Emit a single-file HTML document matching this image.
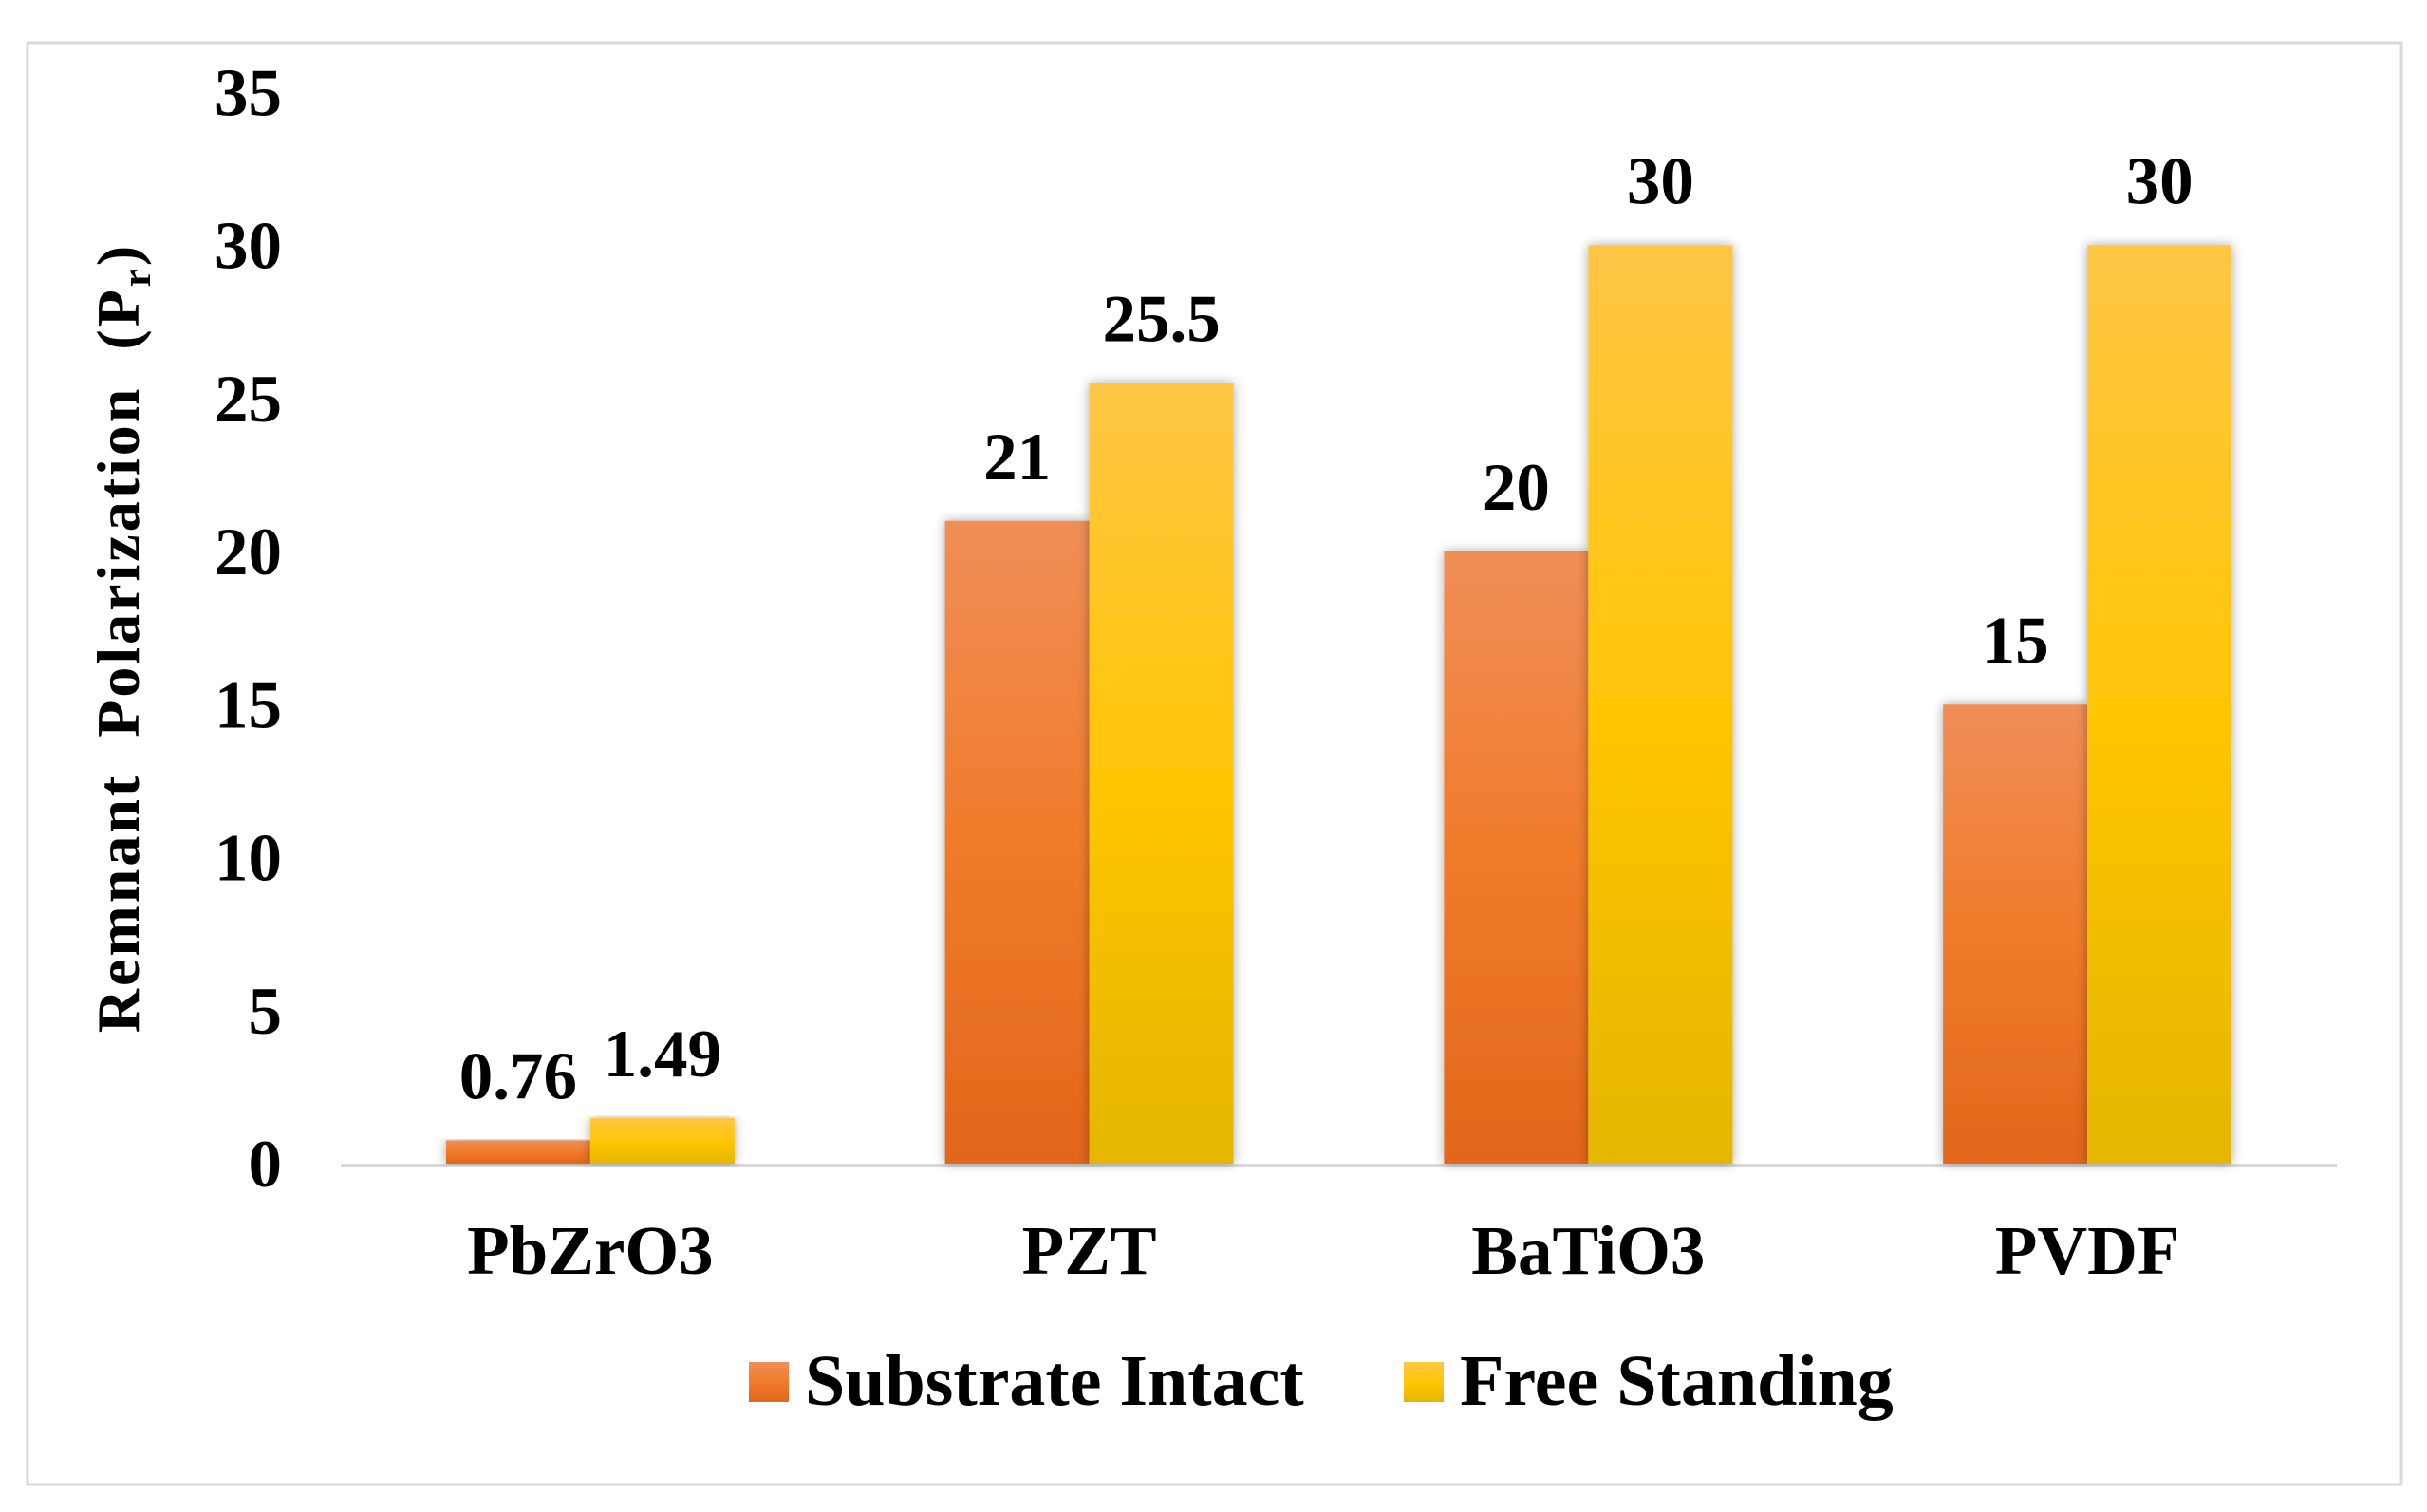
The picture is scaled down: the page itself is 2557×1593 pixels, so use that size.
<!DOCTYPE html>
<html><head><meta charset="utf-8"><style>
html,body{margin:0;padding:0;background:#fff;}
svg{display:block;font-family:"Liberation Serif",serif;font-weight:bold;}
</style></head><body>
<svg id="chart" width="2557" height="1593" viewBox="0 0 2557 1593">
<defs>
<linearGradient id="gO" x1="0" y1="0" x2="0" y2="1"><stop offset="0" stop-color="#f08e58"/><stop offset="0.5" stop-color="#f07b2a"/><stop offset="1" stop-color="#e2661b"/></linearGradient>
<linearGradient id="gY" x1="0" y1="0" x2="0" y2="1"><stop offset="0" stop-color="#ffc646"/><stop offset="0.5" stop-color="#ffc606"/><stop offset="1" stop-color="#e5b600"/></linearGradient>
<filter id="sh" x="-20%" y="-5%" width="140%" height="110%"><feGaussianBlur in="SourceAlpha" stdDeviation="6"/><feComponentTransfer><feFuncA type="linear" slope="0.35"/></feComponentTransfer><feMerge><feMergeNode/><feMergeNode in="SourceGraphic"/></feMerge></filter>
</defs>
<rect x="29" y="45" width="2501" height="1519" fill="none" stroke="#d9d9d9" stroke-width="3"/>
<g id="plot"></g>
</svg>
<script>
const categories = ["PbZrO3","PZT","BaTiO3","PVDF"];
const substrateIntact = [0.76, 21, 20, 15];
const freeStanding = [1.49, 25.5, 30, 30];
const substrateLabels = ["0.76","21","20","15"];
const freeLabels = ["1.49","25.5","30","30"];
const yTicks = [0,5,10,15,20,25,30,35];

const NS = "http://www.w3.org/2000/svg";
const g = document.getElementById('plot');
const x0 = 359, x1 = 2462, y0 = 1226, pxPerUnit = 32.25;
const band = (x1 - x0) / categories.length;
const barW = 152;
function yS(v){ return y0 - v * pxPerUnit; }
function xC(i){ return x0 + band * (i + 0.5); }
function mk(tag, attrs, parent){
  const e = document.createElementNS(NS, tag);
  for (const k in attrs) e.setAttribute(k, attrs[k]);
  (parent || g).appendChild(e);
  return e;
}
yTicks.forEach(t => {
  const tx = mk('text', {x: 297, y: yS(t) + 24, 'text-anchor': 'end', 'font-size': 71, fill: '#000'});
  tx.textContent = t;
  
  
});
const ax = mk('line', {x1: x0, x2: x1, y1: y0 + 2, y2: y0 + 2, stroke: '#d9d9d9', 'stroke-width': 4});


categories.forEach((c, i) => {
  const cx = xC(i);
  const vS = substrateIntact[i], vF = freeStanding[i];
  const b1 = mk('rect', {x: cx - barW, y: yS(vS), width: barW, height: y0 - yS(vS), fill: 'url(#gO)', filter: 'url(#sh)'});
  
  
  const b2 = mk('rect', {x: cx, y: yS(vF), width: barW, height: y0 - yS(vF), fill: 'url(#gY)', filter: 'url(#sh)'});
  
  
  const l1 = mk('text', {x: cx - barW / 2, y: yS(vS) - 44, 'text-anchor': 'middle', 'font-size': 71, fill: '#000'});
  l1.textContent = substrateLabels[i];
  
  
  const l2 = mk('text', {x: cx + barW / 2, y: yS(vF) - 44, 'text-anchor': 'middle', 'font-size': 71, fill: '#000'});
  l2.textContent = freeLabels[i];
  
  
  const cl = mk('text', {x: cx, y: 1342, 'text-anchor': 'middle', 'font-size': 73, fill: '#000'});
  cl.textContent = c;
  
  
});
const yt = mk('text', {x: 0, y: 0, transform: 'translate(146,672) rotate(-90)', 'text-anchor': 'middle', 'font-size': 64, fill: '#000', 'letter-spacing': 3});
yt.innerHTML = 'Remnant&#160;&#160;Polarization&#160;&#160;(P<tspan font-size="43" dy="12">r</tspan><tspan dy="-12">)</tspan>';


const lg1 = mk('rect', {x: 789, y: 1435, width: 42, height: 42, fill: 'url(#gO)'});


const lt1 = mk('text', {x: 848, y: 1480, 'font-size': 76, fill: '#000'});
lt1.textContent = 'Substrate Intact';


const lg2 = mk('rect', {x: 1479, y: 1435, width: 42, height: 42, fill: 'url(#gY)'});


const lt2 = mk('text', {x: 1538, y: 1480, 'font-size': 76, fill: '#000'});
lt2.textContent = 'Free Standing';


</script>
</body></html>
